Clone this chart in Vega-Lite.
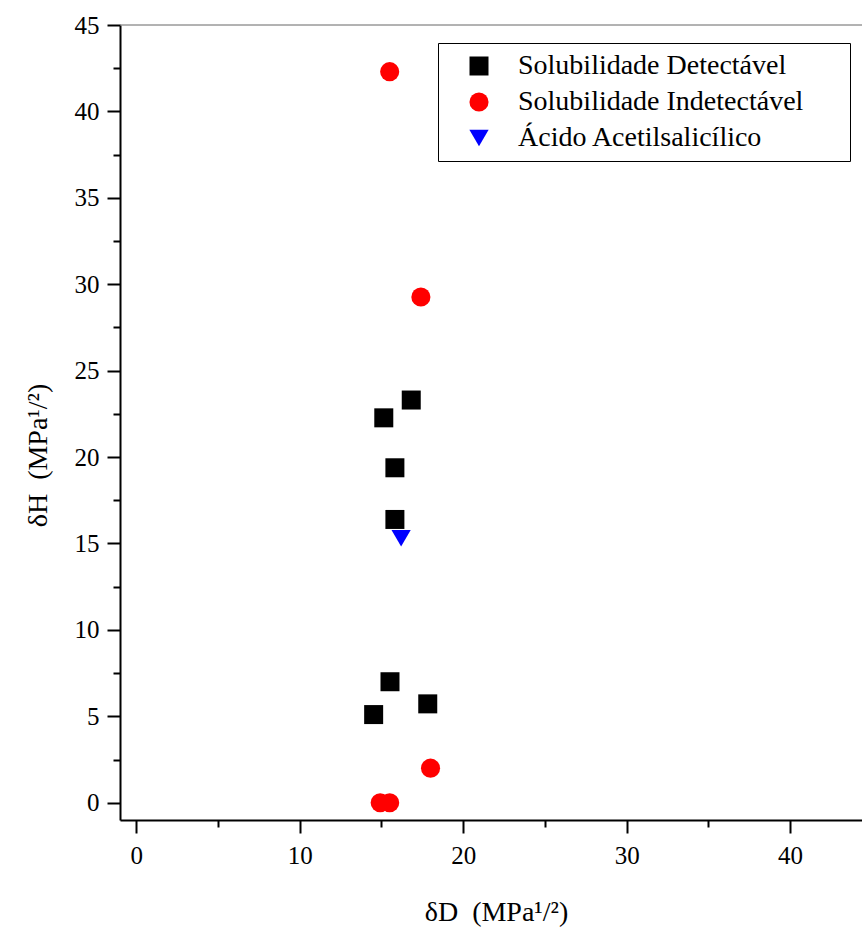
{
  "$schema": "https://vega.github.io/schema/vega-lite/v6.json",
  "width": 742,
  "height": 795,
  "autosize": {"type": "none"},
  "padding": {"left": 120, "top": 25, "right": 0, "bottom": 109},
  "background": "white",
  "config": {
    "view": {"stroke": null},
    "font": "Liberation Serif",
    "axis": {
      "domainColor": "black",
      "domainWidth": 2,
      "tickColor": "black",
      "tickWidth": 2,
      "labelColor": "black",
      "labelFont": "Liberation Serif",
      "labelFontSize": 25,
      "titleFont": "Liberation Serif",
      "titleFontSize": 28,
      "titleFontWeight": "normal",
      "titleColor": "black",
      "grid": false
    },
    "legend": {
      "orient": "none",
      "legendX": 318,
      "legendY": 18,
      "strokeColor": "black",
      "strokeWidth": 1,
      "fillColor": "white",
      "padding": 9,
      "rowPadding": 8,
      "symbolSize": 144,
      "symbolOffset": 18,
      "labelOffset": 25,
      "labelFontSize": 28,
      "labelFont": "Liberation Serif",
      "labelColor": "black",
      "labelLimit": 600,
      "symbolStrokeWidth": 0,
      "symbolOpacity": 1
    }
  },
  "data": {
    "values": [
      {"dD": 15.14, "dH": 22.27, "serie": "Solubilidade Detectável"},
      {"dD": 16.82, "dH": 23.3, "serie": "Solubilidade Detectável"},
      {"dD": 15.82, "dH": 19.38, "serie": "Solubilidade Detectável"},
      {"dD": 15.82, "dH": 16.39, "serie": "Solubilidade Detectável"},
      {"dD": 15.52, "dH": 7.0, "serie": "Solubilidade Detectável"},
      {"dD": 14.52, "dH": 5.1, "serie": "Solubilidade Detectável"},
      {"dD": 17.83, "dH": 5.72, "serie": "Solubilidade Detectável"},
      {"dD": 15.5, "dH": 42.3, "serie": "Solubilidade Indetectável"},
      {"dD": 17.41, "dH": 29.26, "serie": "Solubilidade Indetectável"},
      {"dD": 18.0, "dH": 2.0, "serie": "Solubilidade Indetectável"},
      {"dD": 14.92, "dH": 0.0, "serie": "Solubilidade Indetectável"},
      {"dD": 15.5, "dH": 0.0, "serie": "Solubilidade Indetectável"},
      {"dD": 16.2, "dH": 15.3, "serie": "Ácido Acetilsalicílico"}
    ]
  },
  "resolve": {"axis": {"x": "independent", "y": "independent"}},
  "layer": [
    {
      "mark": {"type": "point", "opacity": 0},
      "encoding": {
        "x": {
          "field": "dD", "type": "quantitative",
          "scale": {"domain": [-1, 44.4], "nice": false, "zero": false},
          "axis": {"orient": "bottom", "values": [5, 15, 25, 35], "labels": false, "domain": false, "tickSize": 7, "title": null}
        },
        "y": {
          "field": "dH", "type": "quantitative",
          "scale": {"domain": [-1, 45], "nice": false, "zero": false},
          "axis": {"orient": "left", "values": [2.5, 7.5, 12.5, 17.5, 22.5, 27.5, 32.5, 37.5, 42.5], "labels": false, "domain": false, "tickSize": 7, "title": null}
        }
      }
    },
    {
      "data": {"values": [{}]},
      "mark": {"type": "rule", "color": "#666666", "strokeWidth": 1},
      "encoding": {
        "y": {"datum": 45, "type": "quantitative", "scale": {"domain": [-1, 45], "nice": false, "zero": false}, "axis": null}
      }
    },
    {
      "mark": {"type": "point", "filled": true, "opacity": 1, "strokeWidth": 0},
      "encoding": {
        "x": {
          "field": "dD", "type": "quantitative",
          "scale": {"domain": [-1, 44.4], "nice": false, "zero": false},
          "axis": {
            "orient": "bottom",
            "values": [0, 10, 20, 30, 40],
            "tickSize": 13,
            "labelPadding": 10,
            "title": "δD \u00a0(MPa¹/²)",
            "titleX": 376,
            "titleY": 100,
            "titleAlign": "center",
            "titleBaseline": "alphabetic"
          }
        },
        "y": {
          "field": "dH", "type": "quantitative",
          "scale": {"domain": [-1, 45], "nice": false, "zero": false},
          "axis": {
            "orient": "left",
            "values": [0, 5, 10, 15, 20, 25, 30, 35, 40, 45],
            "tickSize": 13,
            "labelPadding": 8,
            "title": "δH \u00a0(MPa¹/²)",
            "titleX": -74,
            "titleY": 430,
            "titleAngle": 270,
            "titleAlign": "center",
            "titleBaseline": "alphabetic"
          }
        },
        "color": {
          "field": "serie", "type": "nominal",
          "scale": {"domain": ["Solubilidade Detectável", "Solubilidade Indetectável", "Ácido Acetilsalicílico"], "range": ["#000000", "#ff0000", "#0000ff"]},
          "legend": {"title": null, "labelExpr": "datum.label + '\u00a0\u00a0\u00a0\u00a0\u00a0\u200a\u200b'"}
        },
        "shape": {
          "field": "serie", "type": "nominal",
          "scale": {"domain": ["Solubilidade Detectável", "Solubilidade Indetectável", "Ácido Acetilsalicílico"], "range": ["square", "circle", "triangle-down"]},
          "legend": {"title": null, "labelExpr": "datum.label + '\u00a0\u00a0\u00a0\u00a0\u00a0\u200a\u200b'"}
        },
        "size": {
          "field": "serie", "type": "nominal",
          "scale": {"domain": ["Solubilidade Detectável", "Solubilidade Indetectável", "Ácido Acetilsalicílico"], "range": [361, 370, 660]},
          "legend": null
        }
      }
    }
  ]
}
